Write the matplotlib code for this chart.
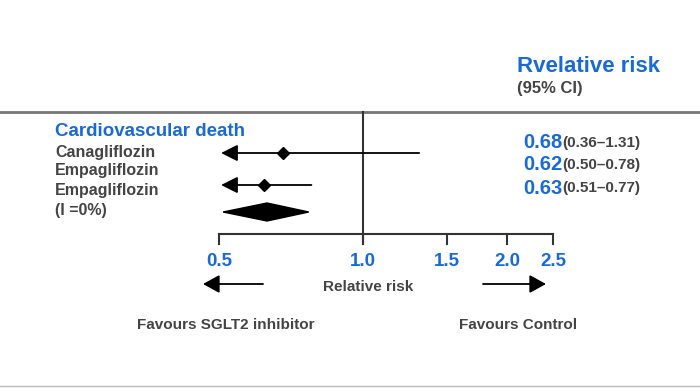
import numpy as np
import matplotlib
matplotlib.use('Agg')
import matplotlib.pyplot as plt
from matplotlib.patches import Polygon

plt.rcParams['font.family'] = ['Liberation Sans', 'DejaVu Sans']

# data
studies = ['Canagliflozin', 'Empagliflozin', 'Empagliflozin', '(I =0%)']
rr = [0.68, 0.62, 0.63]
ci_low = [0.36, 0.50, 0.51]
ci_high = [1.31, 0.78, 0.77]
ticks = [0.5, 1.0, 1.5, 2.0, 2.5]
tick_labels = ['0.5', '1.0', '1.5', '2.0', '2.5']

BLUE = '#1a6ad6'
GREY = '#444444'

fig = plt.figure(figsize=(7, 3.88), dpi=100)
bg = fig.add_axes([0, 0, 1, 1])
bg.set_xlim(0, 700)
bg.set_ylim(388, 0)
bg.axis('off')

ax = fig.add_axes([0, 0, 1, 1])
ax.set_xscale('log')
ax.set_xlim(0.1743, 5.06)
ax.set_ylim(388, 0)
ax.axis('off')
ax.patch.set_alpha(0)

# frame lines
bg.plot([0, 700], [112, 112], color='#777777', lw=2)
bg.plot([0, 700], [386, 386], color='#bbbbbb', lw=1)

# header
bg.text(517, 66, 'Rvelative risk', color=BLUE, fontsize=16, fontweight='bold', va='center')
bg.text(517, 89, '(95% CI)', color=GREY, fontsize=12, fontweight='bold', va='center')
bg.text(55, 131, 'Cardiovascular death', color=BLUE, fontsize=13.5, fontweight='bold', va='center')

label_y = [152, 171, 190, 211]
for name, y in zip(studies, label_y):
    bg.text(55, y, name, color=GREY, fontsize=11.5, fontweight='bold', va='center')

# axis
ax.plot([ticks[0], ticks[-1]], [234, 234], color='#333333', lw=1.5)
for t, lab in zip(ticks, tick_labels):
    ax.plot([t, t], [234, 244], color='#333333', lw=1.5)
    ax.text(t, 262, lab, color=BLUE, fontsize=13.5, fontweight='bold', ha='center', va='center')
ax.plot([1.0, 1.0], [112, 244], color='#333333', lw=1.5)

# study lines
line_y = [153, 185]
for est, lo, hi, y in zip(rr[:2], ci_low[:2], ci_high[:2], line_y):
    if lo <= ticks[0]:
        ax.annotate('', xy=(ticks[0] * 1.01, y), xytext=(hi, y),
                    arrowprops=dict(arrowstyle='-|>,head_length=1.0,head_width=0.5',
                                    color='black', lw=1.3, shrinkA=0, shrinkB=0))
    else:
        ax.plot([lo, hi], [y, y], color='black', lw=1.3)
    ax.plot(est, y, marker='D', color='black', ms=6)

# pooled diamond
est, lo, hi = rr[2], ci_low[2], ci_high[2]
ax.add_patch(Polygon([(lo, 212), (est, 203), (hi, 212), (est, 221)], closed=True,
                     facecolor='black', edgecolor='black'))

# right-hand values
val_y = [143, 165, 188]
for v, lo, hi, y in zip(rr, ci_low, ci_high, val_y):
    t = bg.text(523, y, f'{v:.2f}', color=BLUE, fontsize=14.5, fontweight='bold', va='center')
    bg.annotate(f'({lo:.2f}–{hi:.2f})', xycoords=t, xy=(1, 0.5), va='center',
                color=GREY, fontsize=11, fontweight='bold')

# relative risk arrows
bg.text(368, 287, 'Relative risk', color=GREY, fontsize=11, fontweight='bold', ha='center', va='center')
bg.annotate('', xy=(203, 284), xytext=(263, 284),
            arrowprops=dict(arrowstyle='-|>,head_length=1.0,head_width=0.55', color='black', lw=1.3,
                            shrinkA=0, shrinkB=0))
bg.annotate('', xy=(546, 284), xytext=(483, 284),
            arrowprops=dict(arrowstyle='-|>,head_length=1.0,head_width=0.55', color='black', lw=1.3,
                            shrinkA=0, shrinkB=0))

bg.text(137, 325, 'Favours SGLT2 inhibitor', color=GREY, fontsize=11, fontweight='bold', va='center')
bg.text(459, 325, 'Favours Control', color=GREY, fontsize=11, fontweight='bold', va='center')

fig.savefig('out.png', dpi=100)
